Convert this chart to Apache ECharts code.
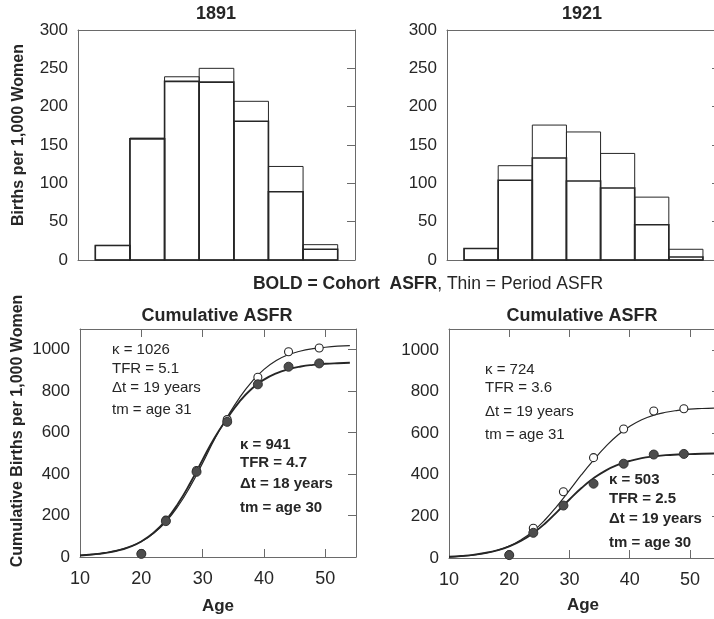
<!DOCTYPE html>
<html>
<head>
<meta charset="utf-8">
<script src="https://cdn.jsdelivr.net/npm/echarts/dist/echarts.min.js"></script>
<style>
html,body{margin:0;padding:0;background:#fff;}
#c{width:714px;height:619px;}
</style>
</head>
<body>
<div id="c"></div>
<script>
// ---------- data ----------
const binStarts = [15, 20, 25, 30, 35, 40, 45];
const binWidth = 5;
const period1891 = [19, 159, 239, 250, 207, 122, 20];
const cohort1891 = [19, 158, 233, 232, 181, 89, 14];
const period1921 = [15, 123, 176, 167, 139, 82, 14];
const cohort1921 = [15, 104, 133, 103, 94, 46, 4];

const pointAges = [20, 24, 29, 34, 39, 44, 49];
const periodCum1891 = [17, 178, 417, 663, 867, 990, 1008];
const cohortCum1891 = [15, 173, 411, 652, 833, 918, 934];
const periodCum1921 = [15, 143, 318, 482, 620, 706, 717];
const cohortCum1921 = [14, 121, 252, 357, 453, 497, 500];

const curveAges = [10,12,14,16,18,20,22,24,26,28,30,32,34,36,38,40,42,44,46,48,50,52,54];
const thinCurve1891 = [8,13,20,31,48,75,114,170,246,342,454,572,675,768,845,905,948,976,994,1005,1012,1017,1020];
const boldCurve1891 = [7,12,19,30,48,75,117,177,258,358,470,578,668,750,812,856,886,906,919,927,932,935,937];
const thinCurve1921 = [4,8,14,23,37,57,88,130,185,252,325,400,470,535,590,632,664,686,700,709,715,718,720];
const boldCurve1921 = [6,10,15,24,37,56,83,120,167,223,281,336,383,420,447,466,480,488,494,497,499,501,502];

const asfrTicks = [0, 50, 100, 150, 200, 250, 300];
const cumTicks = [0, 200, 400, 600, 800, 1000];
const ageTicks = [10, 20, 30, 40, 50];

// ---------- styling ----------
const FONT = '"Liberation Sans", Arial, Helvetica, sans-serif';
const INK = '#262626';
const FRAME = '#6a6a6a';

const grids = [
  {left: 78, top: 30, width: 277, height: 230},
  {left: 447, top: 30, width: 273, height: 230},
  {left: 80, top: 329, width: 276, height: 228},
  {left: 449, top: 329, width: 271, height: 229}
].map(g => Object.assign({outerBoundsMode: 'none', containLabel: false}, g));

function lineStyle() { return {color: FRAME, width: 1}; }
const plain = v => String(v);

const xAxes = [];
const yAxes = [];
[0, 1].forEach(g => {
  ['bottom', 'top'].forEach(pos => xAxes.push({
    gridIndex: g, type: 'value', position: pos, min: 12.5, max: 52.5,
    axisLine: {show: true, onZero: false, lineStyle: lineStyle()},
    axisTick: {show: false}, axisLabel: {show: false}, splitLine: {show: false}
  }));
  yAxes.push({
    gridIndex: g, type: 'value', position: 'left', min: asfrTicks[0], max: asfrTicks[asfrTicks.length - 1],
    interval: asfrTicks[1] - asfrTicks[0],
    axisLine: {show: true, onZero: false, lineStyle: lineStyle()},
    axisTick: {show: false}, splitLine: {show: false},
    axisLabel: {fontSize: 17, color: INK, fontFamily: FONT, margin: 10, formatter: plain}
  });
  yAxes.push({
    gridIndex: g, type: 'value', position: 'right', min: asfrTicks[0], max: asfrTicks[asfrTicks.length - 1],
    interval: asfrTicks[1] - asfrTicks[0],
    axisLine: {show: true, onZero: false, lineStyle: lineStyle()},
    axisTick: {show: true, inside: true, length: 8, lineStyle: lineStyle()},
    axisLabel: {show: false}, splitLine: {show: false}
  });
});
[2, 3].forEach(g => {
  xAxes.push({
    gridIndex: g, type: 'value', position: 'bottom', min: ageTicks[0], max: 55, interval: 10,
    axisLine: {show: true, onZero: false, lineStyle: lineStyle()},
    axisTick: {show: true, inside: true, length: 8, lineStyle: lineStyle()},
    axisLabel: {fontSize: 18, color: INK, fontFamily: FONT, margin: 13, showMaxLabel: false, formatter: plain},
    splitLine: {show: false}
  });
  xAxes.push({
    gridIndex: g, type: 'value', position: 'top', min: ageTicks[0], max: 55, interval: 10,
    axisLine: {show: true, onZero: false, lineStyle: lineStyle()},
    axisTick: {show: true, inside: true, length: 8, lineStyle: lineStyle()},
    axisLabel: {show: false}, splitLine: {show: false}
  });
  yAxes.push({
    gridIndex: g, type: 'value', position: 'left', min: cumTicks[0], max: 1100, interval: cumTicks[1] - cumTicks[0],
    axisLine: {show: true, onZero: false, lineStyle: lineStyle()},
    axisTick: {show: false}, splitLine: {show: false},
    axisLabel: {fontSize: 17, color: INK, fontFamily: FONT, margin: 10, showMaxLabel: false, formatter: plain}
  });
  yAxes.push({
    gridIndex: g, type: 'value', position: 'right', min: cumTicks[0], max: 1100, interval: cumTicks[1] - cumTicks[0],
    axisLine: {show: true, onZero: false, lineStyle: lineStyle()},
    axisTick: {show: true, inside: true, length: 8, lineStyle: lineStyle()},
    axisLabel: {show: false}, splitLine: {show: false}
  });
});

function barSeries(axisIdx, values, lw, z) {
  return {
    type: 'custom', xAxisIndex: axisIdx, yAxisIndex: axisIdx, silent: true, z: z, clip: false,
    data: binStarts.map((s, i) => [s, values[i]]),
    renderItem: function (params, api) {
      const s = api.value(0), v = api.value(1);
      const a = api.coord([s, v]);
      const b = api.coord([s + binWidth, 0]);
      return {
        type: 'rect',
        shape: {x: a[0], y: a[1], width: b[0] - a[0], height: b[1] - a[1]},
        style: {fill: 'none', stroke: INK, lineWidth: lw}
      };
    }
  };
}
function curveSeries(axisIdx, values, lw) {
  return {
    type: 'line', xAxisIndex: axisIdx, yAxisIndex: axisIdx, silent: true, z: 2,
    data: curveAges.map((a, i) => [a, values[i]]),
    smooth: true, showSymbol: false, symbol: 'none',
    lineStyle: {color: INK, width: lw}
  };
}
function pointSeries(axisIdx, values, filled) {
  return {
    type: 'scatter', xAxisIndex: axisIdx, yAxisIndex: axisIdx, silent: true, z: filled ? 5 : 4,
    data: pointAges.map((a, i) => [a, values[i]]),
    symbol: 'circle', symbolSize: filled ? 9 : 8,
    itemStyle: filled ? {color: '#4d4d4d', borderColor: '#333', borderWidth: 1, opacity: 1}
                      : {color: '#fff', borderColor: INK, borderWidth: 1.1, opacity: 1}
  };
}

const series = [
  barSeries(0, period1891, 1, 2),
  barSeries(0, cohort1891, 1.6, 3),
  barSeries(2, period1921, 1, 2),
  barSeries(2, cohort1921, 1.6, 3),
  curveSeries(4, thinCurve1891, 1.2),
  curveSeries(4, boldCurve1891, 1.9),
  pointSeries(4, periodCum1891, false),
  pointSeries(4, cohortCum1891, true),
  curveSeries(6, thinCurve1921, 1.2),
  curveSeries(6, boldCurve1921, 1.9),
  pointSeries(6, periodCum1921, false),
  pointSeries(6, cohortCum1921, true)
];

function txt(x, y, text, size, bold, align, extra) {
  return Object.assign({
    type: 'text', x: x, y: y, silent: true, z: 10,
    style: {text: text, fontSize: size, fontWeight: bold ? 'bold' : 'normal', fontFamily: FONT,
            fill: INK, align: align || 'center', verticalAlign: 'middle'}
  }, extra || {});
}

const graphic = [
  txt(216, 14, '1891', 18, true),
  txt(582, 14, '1921', 18, true),
  txt(19, 135, 'Births per 1,000 Women', 16, true, 'center', {rotation: Math.PI / 2}),
  txt(18, 431, 'Cumulative Births per 1,000 Women', 16, true, 'center', {rotation: Math.PI / 2}),
  {
    type: 'text', x: 428, y: 284, silent: true, z: 10,
    style: {
      text: '{b|BOLD = Cohort  ASFR}{n|, Thin = Period ASFR}',
      align: 'center', verticalAlign: 'middle', fill: INK,
      rich: {
        b: {fontSize: 17.5, fontWeight: 'bold', fontFamily: FONT, fill: INK},
        n: {fontSize: 17.5, fontWeight: 'normal', fontFamily: FONT, fill: INK}
      }
    }
  },
  txt(217, 316, 'Cumulative ASFR', 18, true),
  txt(582, 316, 'Cumulative ASFR', 18, true),
  txt(218, 606, 'Age', 17, true),
  txt(583, 605, 'Age', 17, true),
  // 1891 period fit
  txt(112, 350, 'κ = 1026', 15, false, 'left'),
  txt(112, 369, 'TFR = 5.1', 15, false, 'left'),
  txt(112, 388, 'Δt = 19 years', 15, false, 'left'),
  txt(112, 410, 'tm = age 31', 15, false, 'left'),
  // 1891 cohort fit
  txt(240, 445, 'κ = 941', 15, true, 'left'),
  txt(240, 463, 'TFR = 4.7', 15, true, 'left'),
  txt(240, 484, 'Δt = 18 years', 15, true, 'left'),
  txt(240, 508, 'tm = age 30', 15, true, 'left'),
  // 1921 period fit
  txt(485, 370, 'κ = 724', 15, false, 'left'),
  txt(485, 388, 'TFR = 3.6', 15, false, 'left'),
  txt(485, 412, 'Δt = 19 years', 15, false, 'left'),
  txt(485, 435, 'tm = age 31', 15, false, 'left'),
  // 1921 cohort fit
  txt(609, 480, 'κ = 503', 15, true, 'left'),
  txt(609, 499, 'TFR = 2.5', 15, true, 'left'),
  txt(609, 519, 'Δt = 19 years', 15, true, 'left'),
  txt(609, 543, 'tm = age 30', 15, true, 'left')
];

const chart = echarts.init(document.getElementById('c'), null, {renderer: 'canvas'});
chart.setOption({
  animation: false,
  backgroundColor: '#fff',
  textStyle: {fontFamily: FONT},
  grid: grids,
  xAxis: xAxes,
  yAxis: yAxes,
  series: series,
  graphic: graphic
});
</script>
</body>
</html>
